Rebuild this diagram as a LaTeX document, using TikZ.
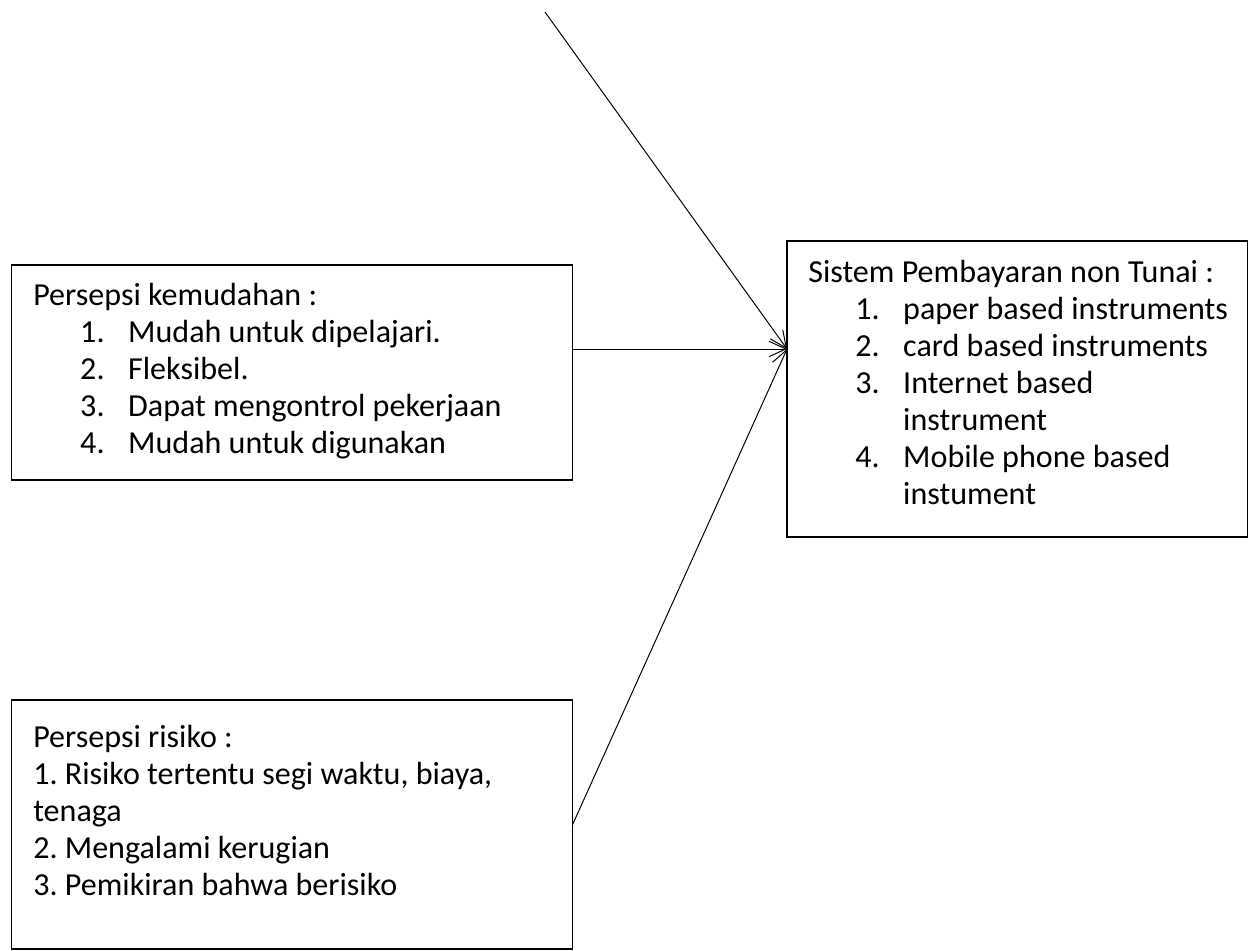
\documentclass[tikz,border=0pt]{standalone}
\usepackage{fontspec}
\setmainfont{Carlito}
\usetikzlibrary{arrows.meta}
\frenchspacing

\newcommand{\butir}[1]{\hspace*{33.4pt}\makebox[34.1pt][l]{#1}}
\newcommand{\lanjut}{\hspace*{67.5pt}}

\begin{document}
\begin{tikzpicture}[x=0.025cm,y=-0.025cm]
\tikzset{kotak/.style={draw,line width=0.8pt,inner sep=0pt},
teks/.style={anchor=base west,inner sep=0pt,align=left,font=\fontsize{22.8}{26.3}\selectfont},
panah/.style={line width=0.7pt,-{Straight Barb[length=12pt,width=11pt]}}}
\useasboundingbox (0,0) rectangle (1248,951);
\node[kotak,minimum width=14cm,minimum height=5.375cm] (kemudahan) at (292,372.5) {};
\node[kotak,minimum width=14cm,minimum height=6.225cm] (risiko) at (292,824.5) {};
\node[kotak,minimum width=11.5cm,minimum height=7.4cm] (sistem) at (1017,389) {};
\node[teks] (kemudahanIsi) at (33,453) {Persepsi kemudahan :\\
\butir{1.}Mudah untuk dipelajari.\\
\butir{2.}Fleksibel.\\
\butir{3.}Dapat mengontrol pekerjaan\\
\butir{4.}Mudah untuk digunakan};
\node[teks] (risikoIsi) at (33,895) {Persepsi risiko :\\
1. Risiko tertentu segi waktu, biaya,\\
tenaga\\
2. Mengalami kerugian\\
3. Pemikiran bahwa berisiko};
\node[teks] (sistemIsi) at (808,504) {Sistem Pembayaran non Tunai :\\
\butir{1.}paper based instruments\\
\butir{2.}card based instruments\\
\butir{3.}Internet based\\
\lanjut instrument\\
\butir{4.}Mobile phone based\\
\lanjut instument};
\coordinate (ujung) at (787,349);
\coordinate (atas) at (545,12);
\draw[panah] (atas) -- (ujung);
\draw[panah] (kemudahan.east |- ujung) -- (ujung);
\draw[panah] (risiko.east) -- (ujung);
\end{tikzpicture}
\end{document}
